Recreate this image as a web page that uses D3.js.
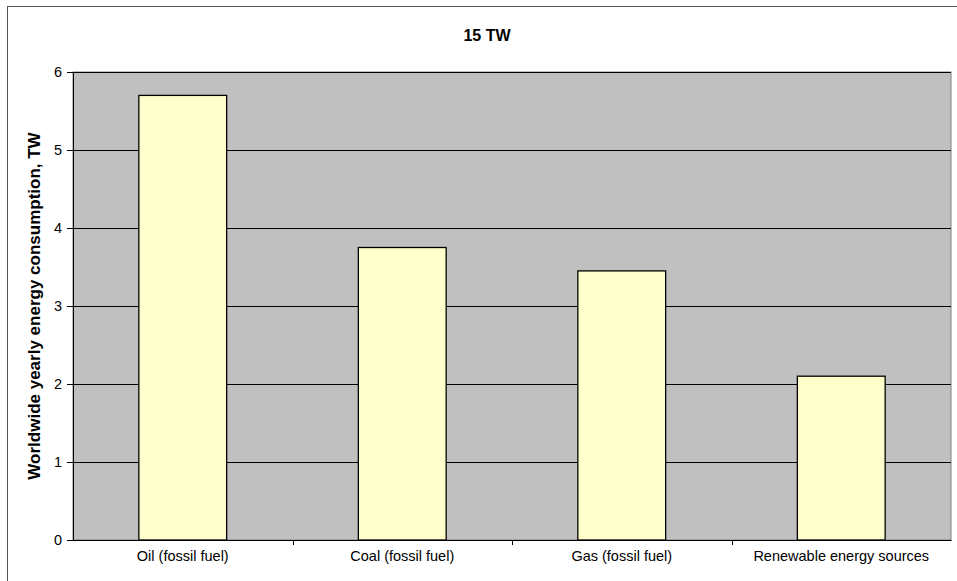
<!DOCTYPE html>
<html><head><meta charset="utf-8">
<script src="https://cdn.jsdelivr.net/npm/d3@7"></script>
<style>body{margin:0;background:#fff}svg{display:block}text{font-family:Arial,"Liberation Sans",sans-serif}</style>
</head><body><svg id="c" width="957" height="581"></svg>
<script>
const categories = ["Oil (fossil fuel)", "Coal (fossil fuel)", "Gas (fossil fuel)", "Renewable energy sources"];
const values = [5.7, 3.75, 3.45, 2.1];
const yTicks = [0, 1, 2, 3, 4, 5, 6];
const title = "15 TW";
const yTitle = "Worldwide yearly energy consumption, TW";

const svg = d3.select("#c");
const m = {left: 73, top: 72, right: 951, bottom: 540};

svg.append("rect").attr("x", 7.5).attr("y", 6.5).attr("width", 970).attr("height", 600)
  .attr("fill", "#fff").attr("stroke", "#555").attr("stroke-width", 1);

const x = d3.scaleBand().domain(categories).range([m.left, m.right]).paddingInner(0.6).paddingOuter(0.3);
const xb = d3.scaleBand().domain(categories).range([m.left, m.right]);
const y = d3.scaleLinear().domain([0, 6]).range([m.bottom, m.top]);

svg.append("rect").attr("x", m.left).attr("y", m.top).attr("width", m.right - m.left).attr("height", m.bottom - m.top)
  .attr("fill", "#c0c0c0").attr("stroke", "#808080").attr("stroke-width", 1);

svg.append("g").selectAll("line").data(yTicks.filter(d => d > 0)).join("line")
  .attr("x1", m.left).attr("x2", m.right).attr("y1", d => Math.round(y(d)) + 0.5).attr("y2", d => Math.round(y(d)) + 0.5)
  .attr("stroke", "#000").attr("stroke-width", 1);

svg.append("g").selectAll("rect").data(values).join("rect")
  .attr("x", (d, i) => x(categories[i])).attr("width", x.bandwidth())
  .attr("y", d => y(d)).attr("height", d => y(0) - y(d))
  .attr("fill", "#ffffcc").attr("stroke", "#000").attr("stroke-width", 1.3);

const ya = svg.append("g").attr("transform", `translate(${m.left},0)`)
  .call(d3.axisLeft(y).tickValues(yTicks).tickSize(6).tickPadding(5).tickFormat(d3.format("d")));
ya.select(".domain").attr("stroke", "#000");
ya.selectAll("line").attr("stroke", "#000");
ya.selectAll("text").attr("font-size", 14.5).attr("fill", "#000").attr("font-family", "Arial,'Liberation Sans',sans-serif");

const xa = svg.append("g").attr("transform", `translate(0,${m.bottom})`)
  .call(d3.axisBottom(xb).tickSize(0).tickPadding(11));
xa.select(".domain").attr("stroke", "#000");
xa.selectAll("text").attr("font-size", 14.5).attr("fill", "#000").attr("font-family", "Arial,'Liberation Sans',sans-serif");
svg.append("g").selectAll("line").data(categories.slice(1)).join("line")
  .attr("x1", d => Math.round(xb(d)) + 0.5).attr("x2", d => Math.round(xb(d)) + 0.5)
  .attr("y1", m.bottom).attr("y2", m.bottom + 5).attr("stroke", "#000");

svg.append("text").attr("x", 487).attr("y", 41).attr("text-anchor", "middle")
  .attr("font-size", 16).attr("font-weight", "bold").text(title);

svg.append("text").attr("transform", `translate(40,${(m.top + m.bottom) / 2}) rotate(-90)`)
  .attr("text-anchor", "middle").attr("font-size", 17).attr("font-weight", "bold").text(yTitle);
</script></body></html>
